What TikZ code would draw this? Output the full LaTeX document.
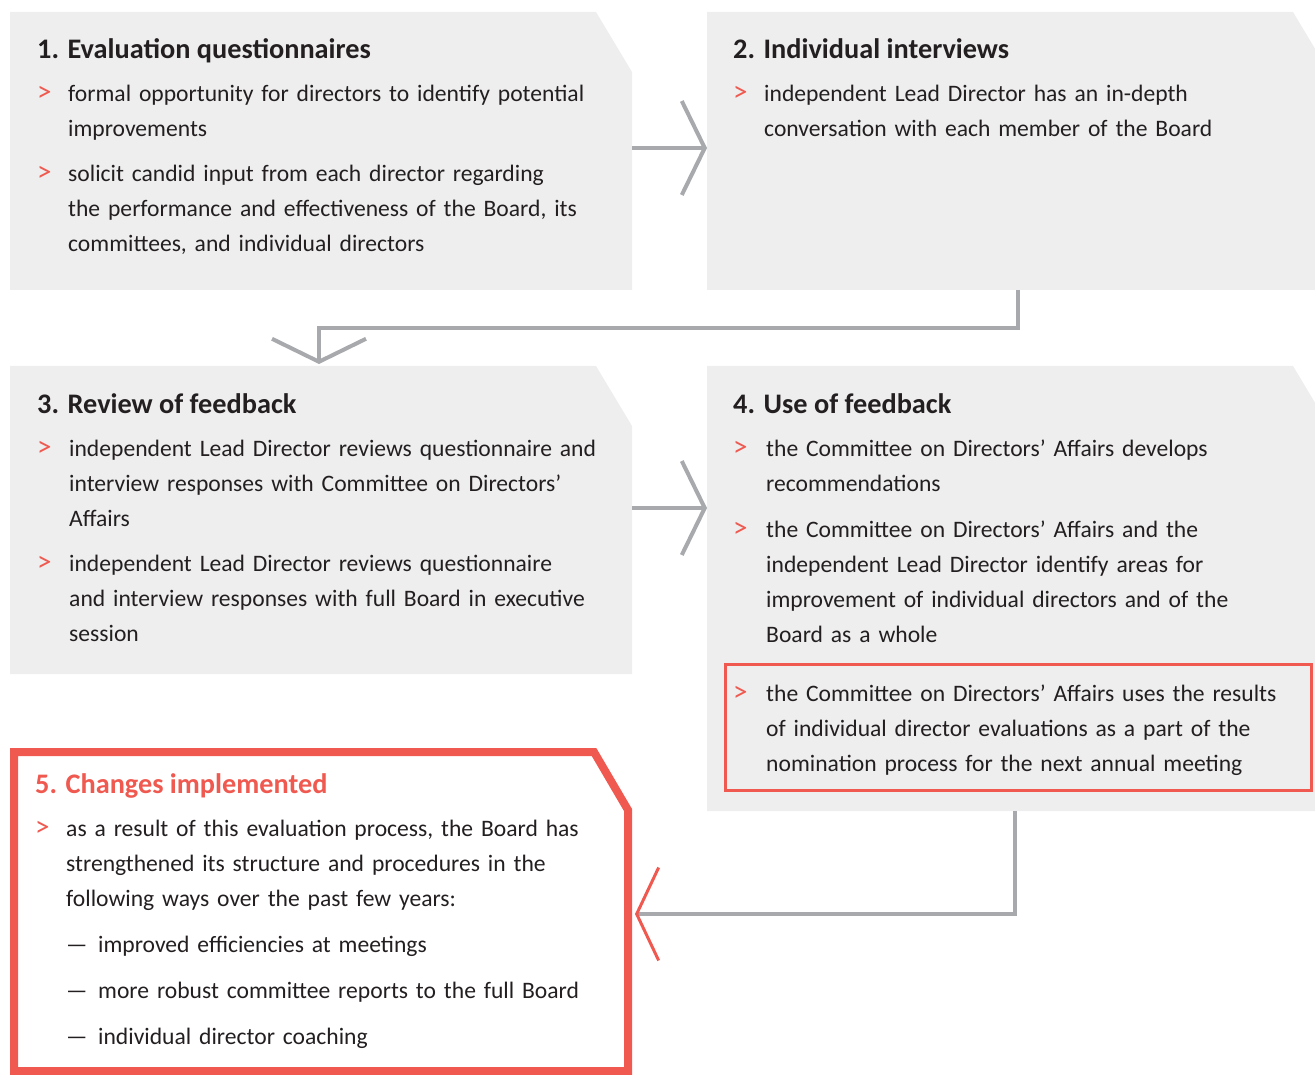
\documentclass[tikz,border=0pt]{standalone}
\usepackage{fontspec}
\setmainfont{Carlito}[WordSpace=0.6]
\newfontfamily\headfont{Carlito}
\usepackage{xcolor}
\usetikzlibrary{arrows.meta}

\definecolor{boxgray}{RGB}{238,238,238}
\definecolor{accent}{RGB}{239,89,79}
\definecolor{arrowgray}{RGB}{167,169,172}
\definecolor{ink}{RGB}{35,31,32}

\newlength{\bulw}
\newcommand{\fitm}[1]{\noindent\hangindent=\bulw\hangafter=1\makebox[\bulw][l]{\textcolor{accent}{\fontsize{29}{35}\selectfont >}}#1\par}
\newcommand{\itm}[1]{\vspace{10pt}\fitm{#1}}
\newcommand{\subitm}[1]{\vspace{11pt}\noindent\hspace*{\bulw}\makebox[32pt][l]{—}#1\par}

\tikzset{
  box/.style={inner sep=0pt, outer sep=0pt, anchor=north west},
  title/.style={inner sep=0pt, anchor=base west, text=ink, font=\headfont\fontsize{28.3}{32}\selectfont\bfseries},
  body/.style={inner sep=0pt, anchor=base west, text=ink, text width=600pt,
    font=\fontsize{23.6}{35}\selectfont, execute at begin node={\raggedright\setlength{\bulw}{#1}}},
  conn/.style={draw=arrowgray, line width=4pt, -{Straight Barb[length=23pt,width=94pt]}},
}

\begin{document}
\begin{tikzpicture}[x=1pt,y=-1pt]
\useasboundingbox (0,0) rectangle (1315,1075);

% frames of the five steps
\node[box, minimum width=622pt, minimum height=278pt] (box1) at (10,12) {};
\node[box, minimum width=622pt, minimum height=278pt] (box2) at (707,12) {};
\node[box, minimum width=622pt, minimum height=308pt] (box3) at (10,366) {};
\node[box, minimum width=622pt, minimum height=445pt] (box4) at (707,366) {};
\node[box, minimum width=614pt, minimum height=319pt] (box5) at (14,752) {};

\foreach \b in {box1,box2,box3,box4}
  \fill[boxgray] (\b.north west) -- ([xshift=-36pt]\b.north east) -- ([yshift=-60pt]\b.north east)
    -- (\b.south east) -- (\b.south west) -- cycle;
\draw[accent, line width=8pt, line join=miter] (box5.north west) -- ([xshift=-34pt]box5.north east)
  -- ([yshift=-58pt]box5.north east) -- (box5.south east) -- (box5.south west) -- cycle;

% highlighted item of step 4
\node[box, draw=accent, line width=3pt, minimum width=586pt, minimum height=126pt] (hl) at (725,664) {};

% step 1
\node[title] (t1) at (37,59) {1. Evaluation questionnaires};
\node[body=31pt] (l1) at (37,101.7) {%
  \fitm{formal opportunity for directors to identify potential\newline improvements}
  \itm{solicit candid input from each director regarding\newline the performance and effectiveness of the Board, its\newline committees, and individual directors}};

% step 2
\node[title] (t2) at (733,59) {2. Individual interviews};
\node[body=31pt] (l2) at (733,101.7) {%
  \fitm{independent Lead Director has an in-depth\newline conversation with each member of the Board}};

% step 3
\node[title] (t3) at (37,413) {3. Review of feedback};
\node[body=32pt] (l3) at (37,456.5) {%
  \fitm{independent Lead Director reviews questionnaire and\newline interview responses with Committee on Directors’\newline Affairs}
  \itm{independent Lead Director reviews questionnaire\newline and interview responses with full Board in executive\newline session}};

% step 4
\node[title] (t4) at (733,413) {4. Use of feedback};
\node[body=33pt] (l4) at (733,456.5) {%
  \fitm{the Committee on Directors’ Affairs develops\newline recommendations}
  \vspace{11pt}\fitm{the Committee on Directors’ Affairs and the\newline independent Lead Director identify areas for\newline improvement of individual directors and of the\newline Board as a whole}};
\node[body=33pt] (l4b) at (733,701.5) {%
  \fitm{the Committee on Directors’ Affairs uses the results\newline of individual director evaluations as a part of the\newline nomination process for the next annual meeting}};

% step 5
\node[title, text=accent] (t5) at (35,793) {5. Changes implemented};
\node[body=31pt] (l5) at (35,836.5) {%
  \fitm{as a result of this evaluation process, the Board has\newline strengthened its structure and procedures in the\newline following ways over the past few years:}
  \subitm{improved efficiencies at meetings}
  \subitm{more robust committee reports to the full Board}
  \subitm{individual director coaching}};

% connectors
\draw[conn] ([yshift=3pt]box1.east) -- ([yshift=3pt]box2.west);
\draw[conn, shorten >=2pt] (box2.south) -- ++(0,38) -| ([xshift=-2pt]box3.north);
\draw[conn] ([yshift=12pt]box3.east) -- ([yshift=12pt]box3.east -| box4.west);
\draw[conn, -{Straight Barb[length=22pt,width=93pt,color=accent,line width=3pt]}, shorten >=7pt]
  ([xshift=-3pt]box4.south) |- ([yshift=-2.5pt]box5.east);

\end{tikzpicture}
\end{document}
